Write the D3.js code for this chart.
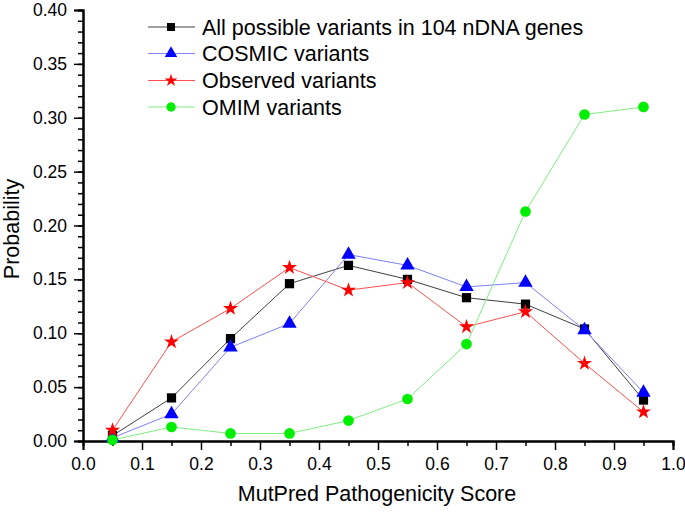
<!DOCTYPE html>
<html><head><meta charset="utf-8">
<script src="https://cdn.jsdelivr.net/npm/d3@7"></script>
<style>body{margin:0;background:#fff}svg{display:block}text{font-family:Arial,"Liberation Sans",sans-serif}</style>
</head><body>
<svg id="c" width="685" height="513"></svg>
<script>
const scores = [0.05,0.15,0.25,0.35,0.45,0.55,0.65,0.75,0.85,0.95];
const allVariants = [0.005,0.040,0.095,0.146,0.163,0.150,0.133,0.127,0.104,0.038];
const cosmicVariants = [0.003,0.025,0.087,0.109,0.173,0.163,0.143,0.147,0.103,0.045];
const observedVariants = [0.010,0.092,0.123,0.161,0.140,0.147,0.106,0.120,0.072,0.027];
const omimVariants = [0.001,0.013,0.007,0.007,0.019,0.039,0.090,0.213,0.303,0.310];
const seriesNames = ["All possible variants in 104 nDNA genes","COSMIC variants","Observed variants","OMIM variants"];
const xTicks = [0,0.1,0.2,0.3,0.4,0.5,0.6,0.7,0.8,0.9,1.0];
const yTicks = [0,0.05,0.1,0.15,0.2,0.25,0.3,0.35,0.4];

const series = [
  {name:seriesNames[0], values:allVariants, line:"#404040", fill:"#000000", sym:d3.symbolSquare, size:85},
  {name:seriesNames[1], values:cosmicVariants, line:"#7f7fff", fill:"#0000ff", sym:d3.symbolTriangle, size:90},
  {name:seriesNames[2], values:observedVariants, line:"#ff5050", fill:"#ff0000", sym:d3.symbolStar, size:70},
  {name:seriesNames[3], values:omimVariants, line:"#80ee80", fill:"#00ee00", sym:d3.symbolCircle, size:90}
];

const svg = d3.select("#c");
const x = d3.scaleLinear().domain([0,1]).range([83,673]);
const y = d3.scaleLinear().domain([0,0.4]).range([441,10]);

svg.append("g").attr("transform","translate(0,441)")
  .call(d3.axisBottom(x).tickValues(d3.range(0.05,1,0.1)).tickSize(5).tickFormat(""));
svg.append("g").attr("transform","translate(0,441)")
  .call(d3.axisBottom(x).tickValues(xTicks).tickSize(9).tickPadding(8).tickFormat(d3.format(".1f")));
svg.append("g").attr("transform","translate(83,0)")
  .call(d3.axisLeft(y).tickValues(d3.range(0,0.401,0.01)).tickSize(5).tickFormat(""));
svg.append("g").attr("transform","translate(83,0)")
  .call(d3.axisLeft(y).tickValues(yTicks).tickSize(9).tickPadding(7).tickFormat(d3.format(".2f")));
svg.selectAll(".domain").attr("stroke","#000").attr("stroke-width",2);
svg.selectAll(".tick line").attr("stroke","#000").attr("stroke-width",1.5);
svg.selectAll(".tick text").attr("font-size",17.5).attr("fill","#000");

svg.append("text").attr("x",377).attr("y",501).attr("text-anchor","middle").attr("font-size",21.5).text("MutPred Pathogenicity Score");
svg.append("text").attr("transform","translate(19,229) rotate(-90)").attr("text-anchor","middle").attr("font-size",21.5).text("Probability");

const line = d3.line().x((d,i)=>x(scores[i])).y(d=>y(d));
series.forEach(s=>{
  svg.append("path").attr("d",line(s.values)).attr("fill","none").attr("stroke",s.line).attr("stroke-width",1);
});
series.forEach(s=>{
  svg.append("g").selectAll("path").data(s.values).join("path")
    .attr("transform",(d,i)=>`translate(${x(scores[i])},${y(d)})`)
    .attr("d",d3.symbol(s.sym,s.size)).attr("fill",s.fill);
});

const lg = svg.append("g");
const rowY = [27,53.5,80.5,107];
series.forEach((s,i)=>{
  const yy = rowY[i];
  lg.append("line").attr("x1",148).attr("x2",195).attr("y1",yy).attr("y2",yy).attr("stroke",s.line).attr("stroke-width",1);
  lg.append("path").attr("transform",`translate(171,${yy})`).attr("d",d3.symbol(s.sym,s.size*0.75)).attr("fill",s.fill);
  lg.append("text").attr("x",202).attr("y",yy+7.5).attr("font-size",21.5).text(s.name);
});
</script>
</body></html>
